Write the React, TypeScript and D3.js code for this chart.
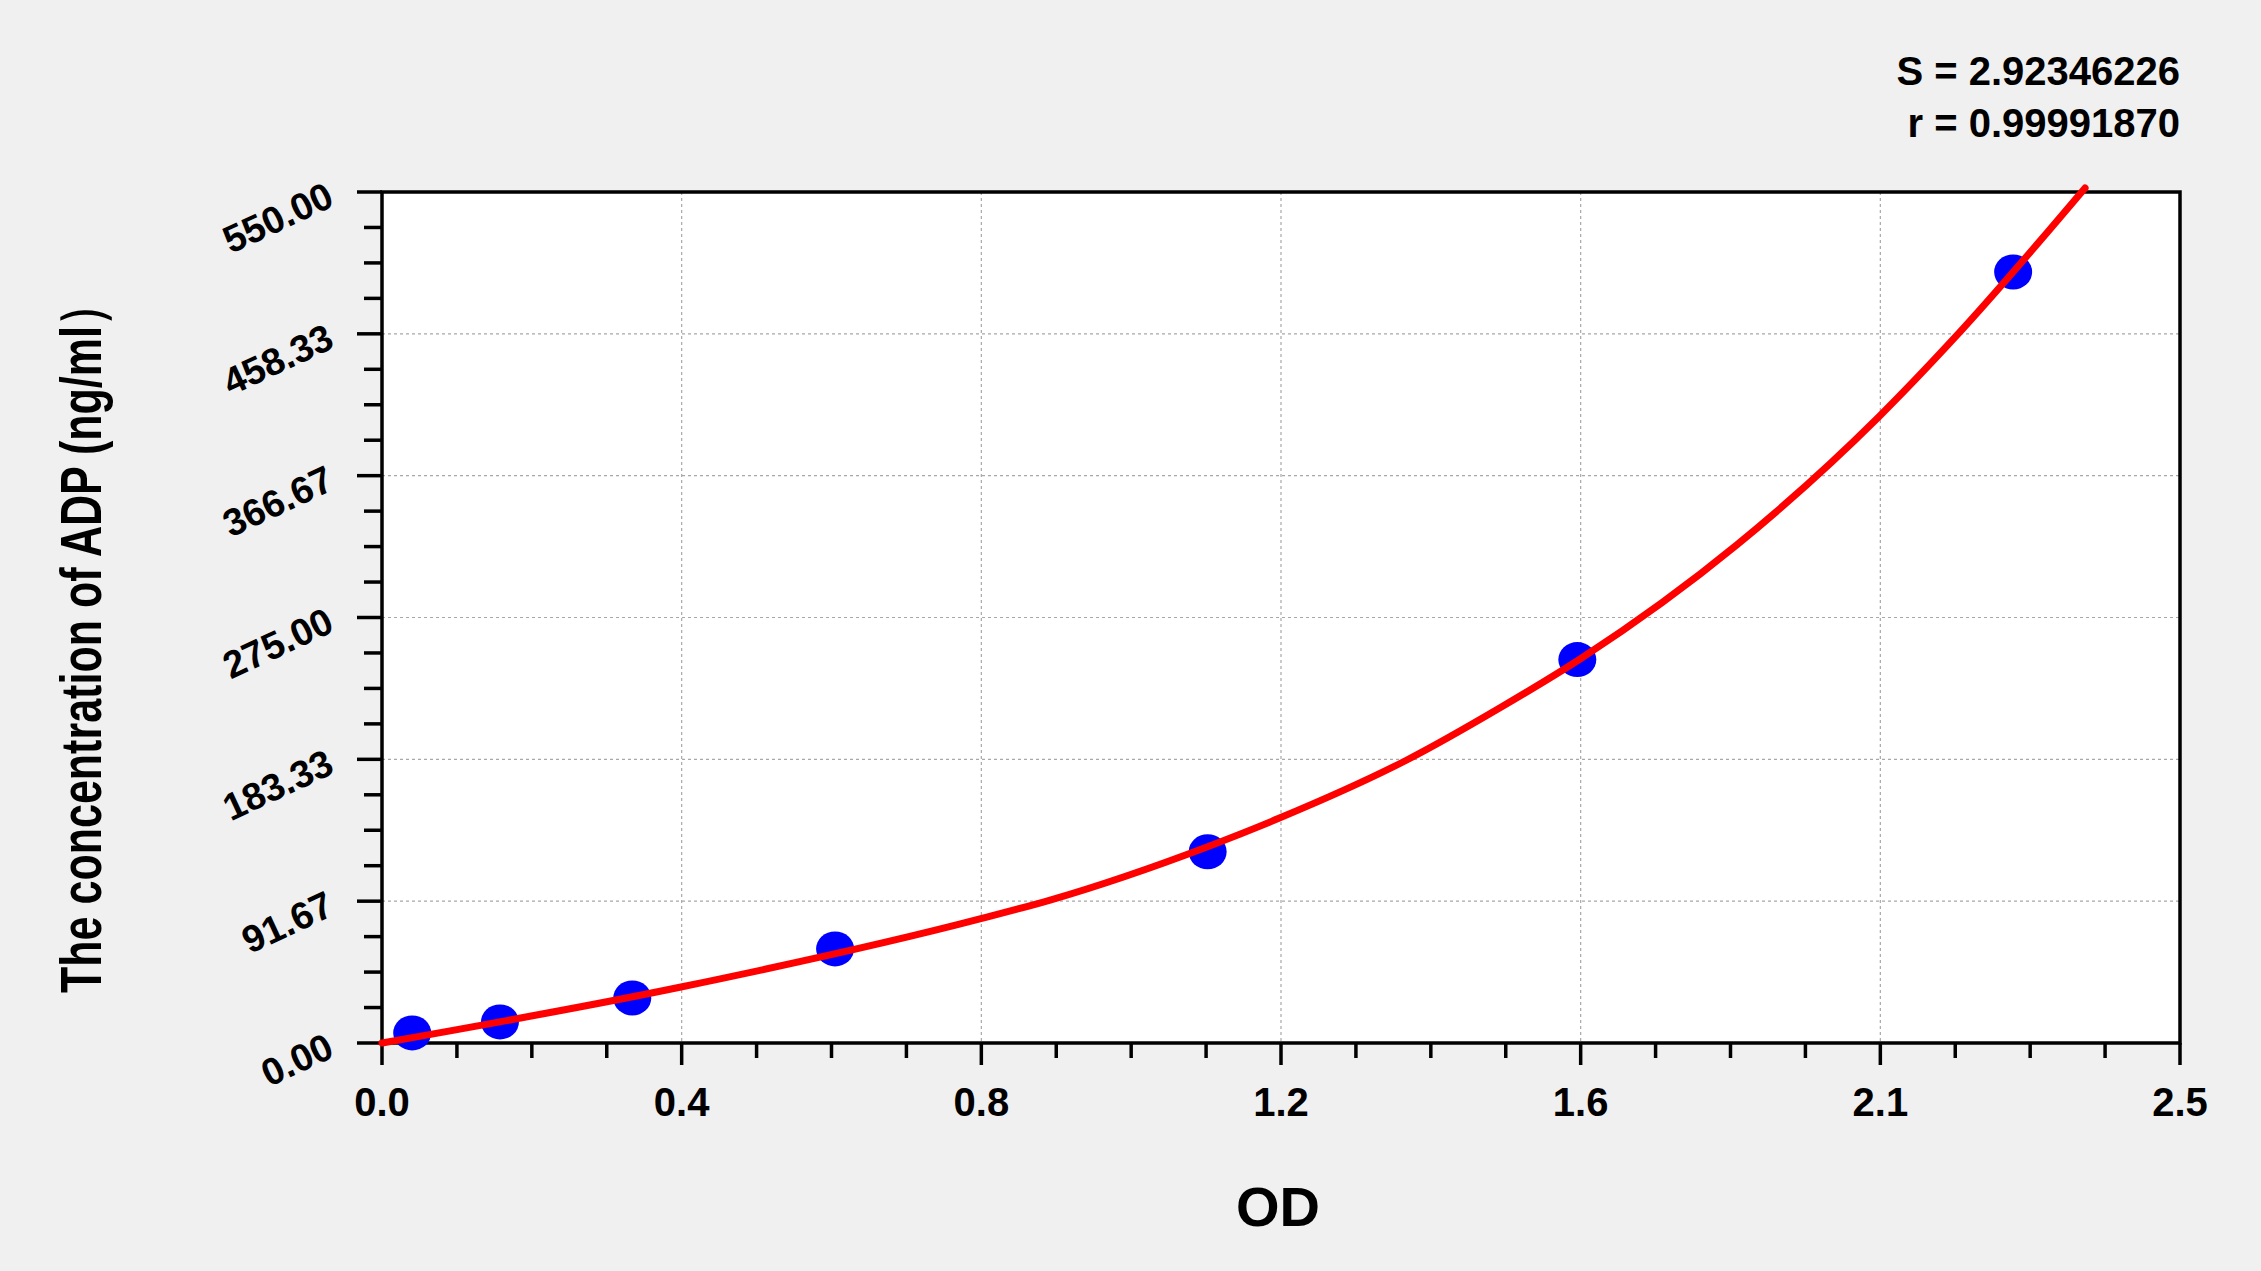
import * as d3 from "d3";

// values
const xTickLabels = ["0.0", "0.4", "0.8", "1.2", "1.6", "2.1", "2.5"];
const yTickLabels = ["0.00", "91.67", "183.33", "275.00", "366.67", "458.33", "550.00"];

const odValues = [0.042, 0.164, 0.348, 0.63, 1.148, 1.662, 2.268];
const concValues = [6.5, 13.6, 29.1, 60.8, 123.6, 247.8, 498.3];

const curveOd = [0, 0.414, 0.834, 0.929, 1.148, 1.247, 1.425, 1.554, 1.667, 1.884, 2.081, 2.187, 2.368];
const curveConc = [0, 36, 80.5, 92.4, 126.9, 145.2, 182.9, 216.5, 248.5, 322, 404.6, 456, 552.6];

const statLines = ["S = 2.92346226", "r = 0.99991870"];

const W = 2261;
const H = 1271;
const margin = { left: 382, right: 81, top: 192, bottom: 228 };
const FONT = "'Liberation Sans', Arial, Helvetica, sans-serif";

export default function App() {
  const x = d3
    .scaleLinear()
    .domain([0, 2.5])
    .range([margin.left, W - margin.right]);
  const y = d3
    .scaleLinear()
    .domain([0, 550])
    .range([H - margin.bottom, margin.top]);

  const xStep = 2.5 / (xTickLabels.length - 1);
  const yStep = 550 / (yTickLabels.length - 1);
  const xMajor = xTickLabels.map((_, i) => i * xStep);
  const yMajor = yTickLabels.map((_, i) => i * yStep);
  // 3 minor ticks between majors
  const xMinor = d3.range(0, 24).filter((i) => i % 4 !== 0).map((i) => (i * xStep) / 4);
  const yMinor = d3.range(0, 24).filter((i) => i % 4 !== 0).map((i) => (i * yStep) / 4);

  const fitLine = d3
    .line<number>()
    .x((d) => x(d))
    .y((_, i) => y(curveConc[i]))
    .curve(d3.curveMonotoneX);

  const [x0, x1] = x.range();
  const [y0, y1] = y.range();

  return (
    <svg
      width={W}
      height={H}
      style={{ position: "absolute", left: 0, top: 0, display: "block" }}
      fontFamily={FONT}
    >
      <rect width={W} height={H} fill="#f0f0f0" />
      <rect x={x0} y={y1} width={x1 - x0} height={y0 - y1} fill="#fff" />

      {/* grid */}
      <g stroke="#a8a8a8" strokeWidth={1.2} strokeDasharray="3,3">
        {xMajor.slice(1, -1).map((v) => (
          <line key={"gx" + v} x1={x(v)} x2={x(v)} y1={y1} y2={y0} />
        ))}
        {yMajor.slice(1, -1).map((v) => (
          <line key={"gy" + v} x1={x0} x2={x1} y1={y(v)} y2={y(v)} />
        ))}
      </g>

      {/* ticks */}
      <g stroke="#000" strokeWidth={3.5}>
        {xMajor.map((v) => (
          <line key={"tx" + v} x1={x(v)} x2={x(v)} y1={y0} y2={y0 + 22} />
        ))}
        {xMinor.map((v) => (
          <line key={"mx" + v} x1={x(v)} x2={x(v)} y1={y0} y2={y0 + 15} />
        ))}
        {yMajor.map((v) => (
          <line key={"ty" + v} x1={x0 - 25} x2={x0} y1={y(v)} y2={y(v)} />
        ))}
        {yMinor.map((v) => (
          <line key={"my" + v} x1={x0 - 18} x2={x0} y1={y(v)} y2={y(v)} />
        ))}
      </g>

      <rect
        x={x0}
        y={y1}
        width={x1 - x0}
        height={y0 - y1}
        fill="none"
        stroke="#000"
        strokeWidth={3.5}
      />

      {/* tick labels */}
      <g fontWeight="bold" fontSize={40} fill="#000" textAnchor="middle">
        {xTickLabels.map((t, i) => (
          <text key={"lx" + t} x={x(xMajor[i])} y={y0 + 73}>
            {t}
          </text>
        ))}
      </g>
      <g fontWeight="bold" fontSize={38} fill="#000" textAnchor="end">
        {yTickLabels.map((t, i) => (
          <text
            key={"ly" + t}
            transform={`translate(${x0 - 46},${y(yMajor[i]) + 13}) rotate(-25)`}
          >
            {t}
          </text>
        ))}
      </g>

      {/* axis titles */}
      <text
        x={1278}
        y={1226}
        textAnchor="middle"
        fontWeight="bold"
        fontSize={56}
        fill="#000"
      >
        OD
      </text>
      <text
        transform="translate(101,638) rotate(-90)"
        textAnchor="middle"
        fontWeight="bold"
        fontSize={58}
        fill="#000"
        textLength={710}
        lengthAdjust="spacingAndGlyphs"
      >
        The concentration of ADP (ng/ml）
      </text>

      {/* stats */}
      <g fontWeight="bold" fontSize={40} fill="#000" textAnchor="end">
        {statLines.map((s, i) => (
          <text key={s} x={x1} y={85 + i * 52}>
            {s}
          </text>
        ))}
      </g>

      {/* points */}
      <g fill="#0000ff">
        {odValues.map((v, i) => (
          <ellipse key={"p" + i} cx={x(v)} cy={y(concValues[i])} rx={19} ry={17.5} />
        ))}
      </g>

      {/* fitted curve */}
      <path
        d={fitLine(curveOd) ?? ""}
        fill="none"
        stroke="#ff0000"
        strokeWidth={7}
        strokeLinecap="round"
      />
    </svg>
  );
}
